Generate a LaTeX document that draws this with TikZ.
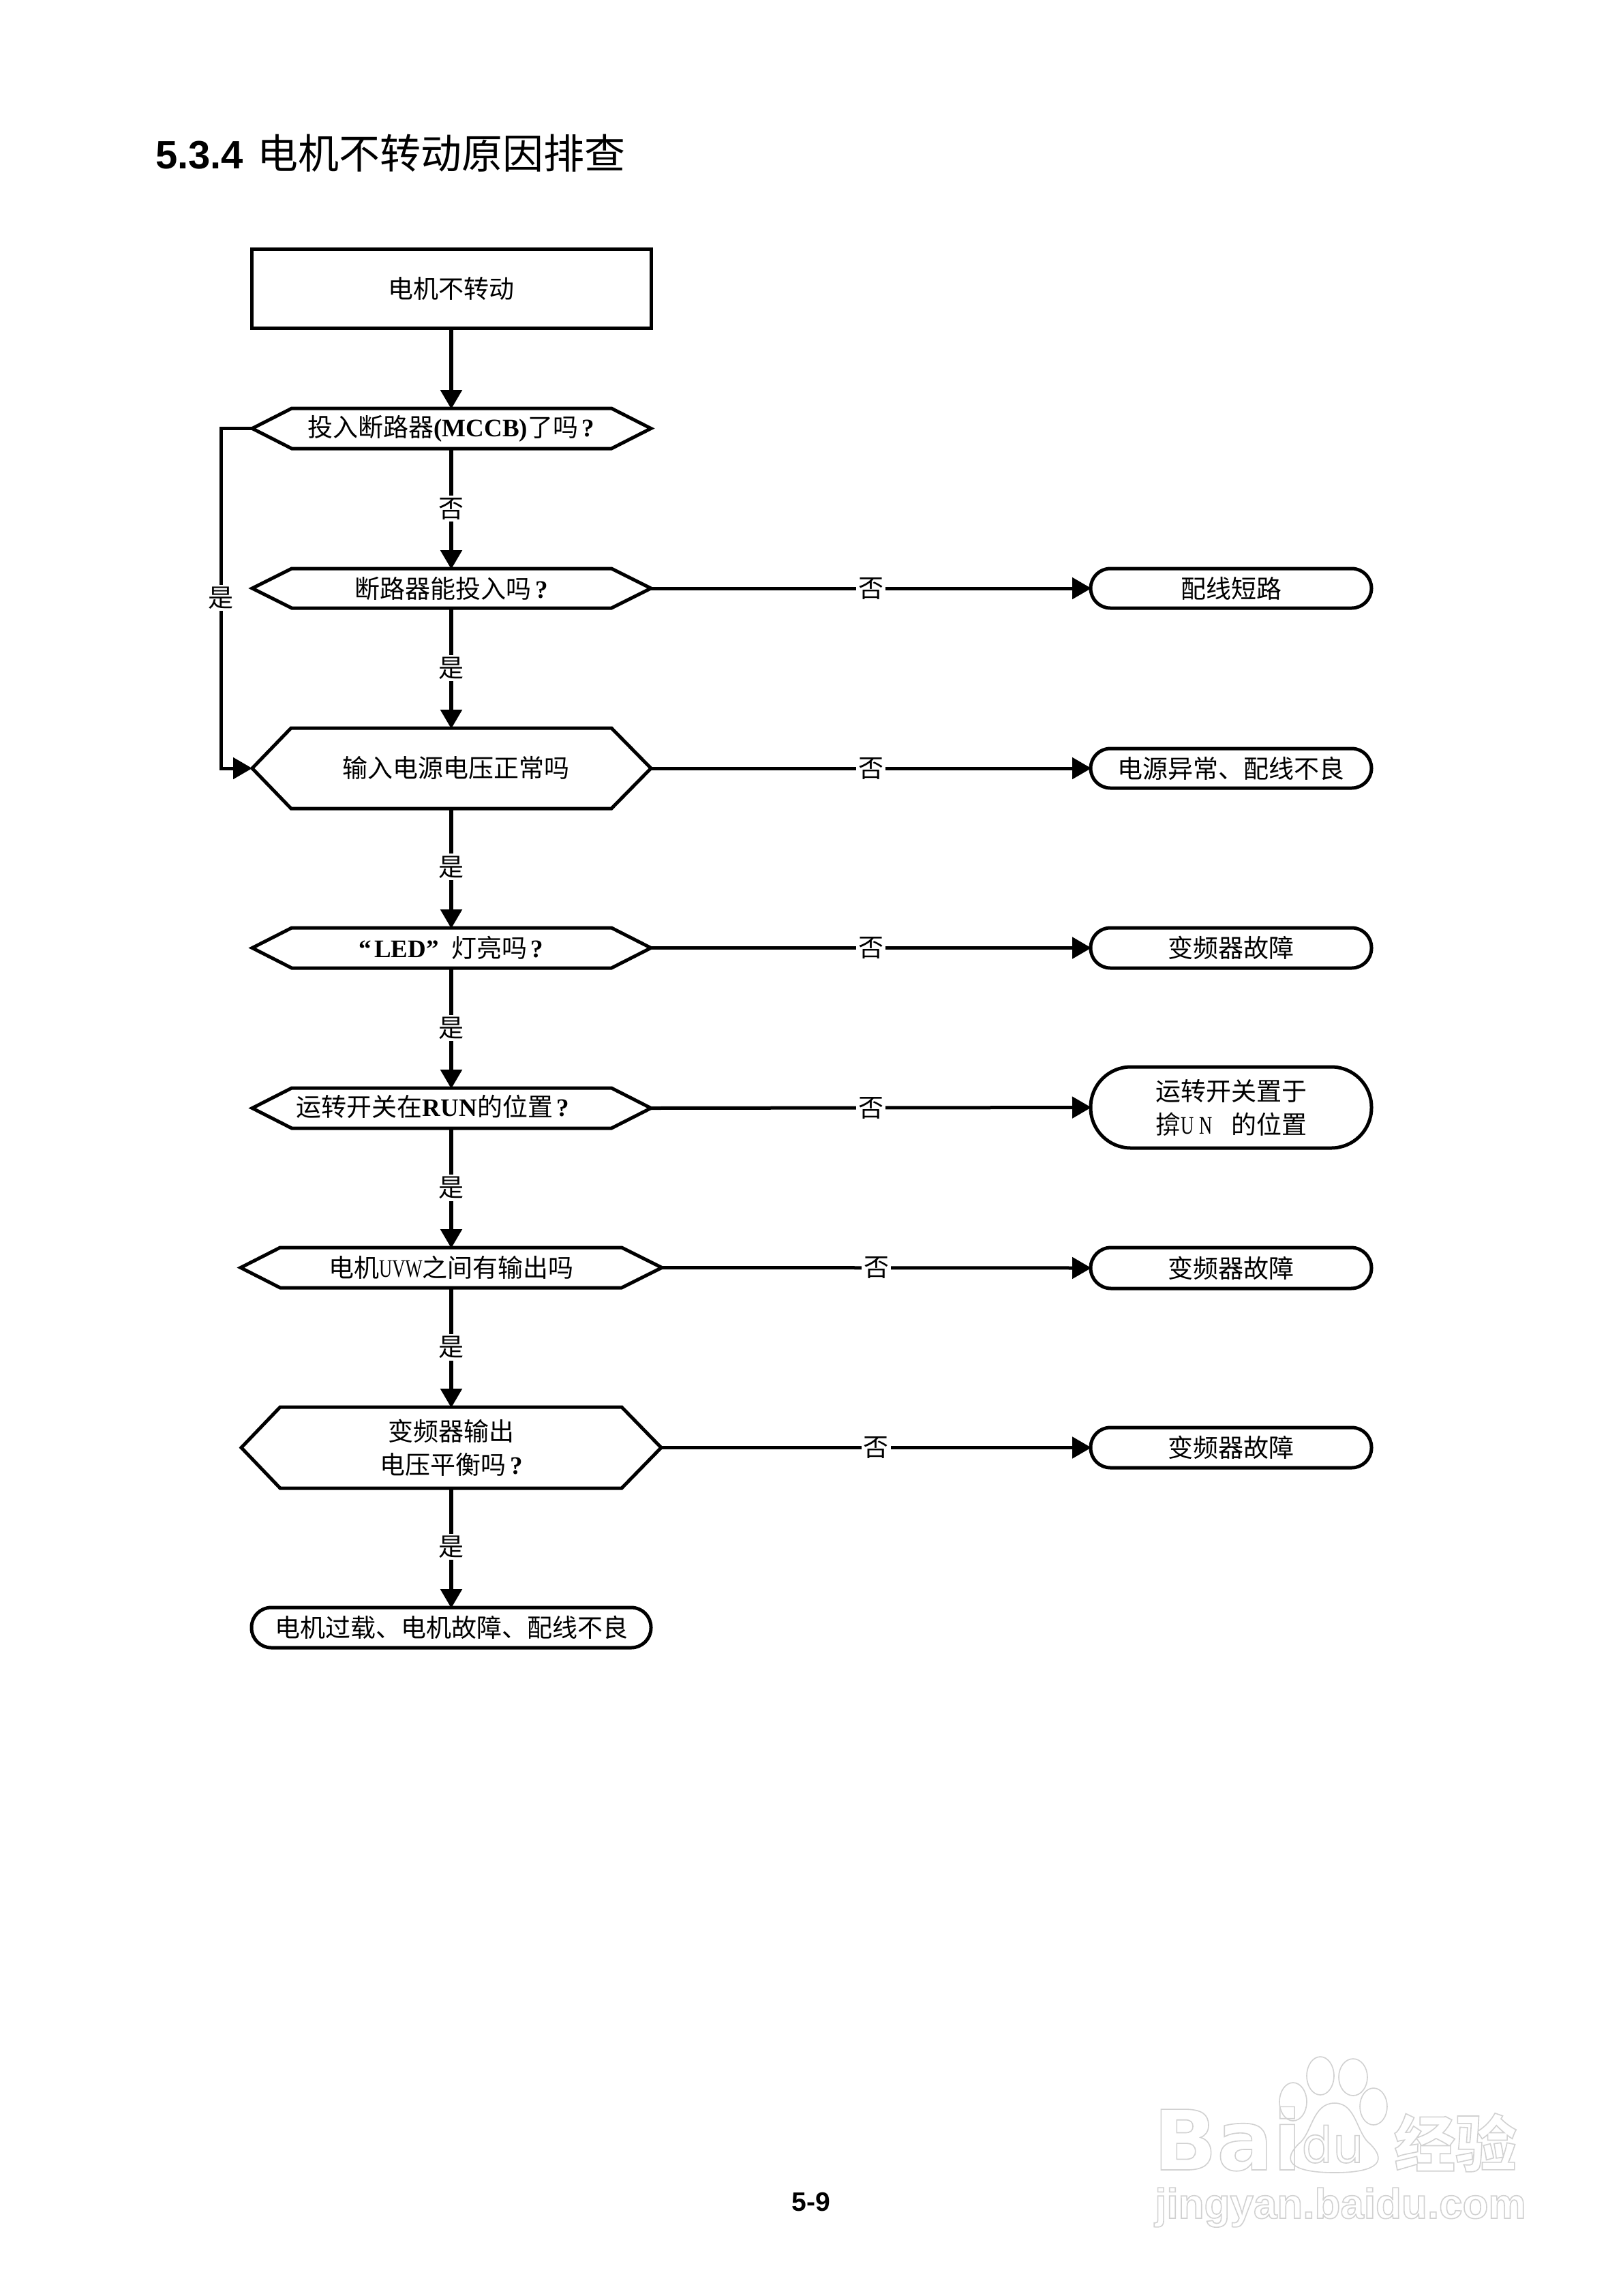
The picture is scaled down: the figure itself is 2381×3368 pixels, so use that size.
\documentclass[tikz,border=0pt]{standalone}
\usepackage{fontspec}
\usepackage{graphicx}
\setmainfont{Liberation Serif}
\newfontfamily\cjk{Noto Sans CJK SC}
\newfontfamily\hv{Liberation Sans}
\newfontfamily\wm{DejaVu Sans}
\usetikzlibrary{arrows.meta}
\newcommand{\outl}[1]{\special{pdf:code 1 Tr 1.6 w 0.82 G}#1\special{pdf:code 0 Tr 0 G}}
\newcommand{\qm}{\hspace{.15em}{\rmfamily\bfseries ?}}
\newcommand{\nar}[1]{\scalebox{.72}[1]{\rmfamily #1}}
\tikzset{
 x=1pt,y=-1pt,
 line/.style={line width=5pt,draw=black},
 flow/.style={line width=5.5pt,draw=black,-{Triangle[length=28pt,width=31pt]},shorten >=-1pt},
 lab/.style={fill=white,inner sep=3pt,font=\fontsize{37}{37}\selectfont\cjk},
 txt/.style={font=\fontsize{37}{49}\selectfont\cjk,align=center,inner sep=0pt},
}
\newcommand{\hexa}[7]{% name, xl, xi, xj, xr, yt, yb
 \coordinate (#1-w) at (#2,{(#6+#7)/2});
 \coordinate (#1-e) at (#5,{(#6+#7)/2});
 \coordinate (#1-n) at (662,#6);
 \coordinate (#1-s) at (662,#7);
 \coordinate (#1-c) at (662,{(#6+#7)/2});
 \draw[line,line join=miter] (#1-w) -- (#3,#6) -- (#4,#6) -- (#1-e) -- (#4,#7) -- (#3,#7) -- cycle;
}
\newcommand{\pill}[6]{% name, xl, xr, yt, yb, radius
 \draw[line,rounded corners=#6pt] (#2,#4) rectangle (#3,#5);
 \coordinate (#1-w) at (#2,{(#4+#5)/2});
 \coordinate (#1-n) at ({(#2+#3)/2},#4);
 \coordinate (#1-c) at ({(#2+#3)/2},{(#4+#5)/2});
}
\begin{document}
\begin{tikzpicture}
\useasboundingbox (0,0) rectangle (2381,3368);
\fill[white] (0,0) rectangle (2381,3368);

% title and page number
\node[anchor=base west,inner sep=0pt,font=\fontsize{58}{60}\selectfont\hv\bfseries] (title) at (228,247) {5.3.4};
\node[anchor=base west,inner sep=0pt,font=\fontsize{60}{60}\selectfont\cjk] (titlecjk) at (377,247) {电机不转动原因排查};
\node[anchor=center,inner sep=0pt,font=\fontsize{39}{40}\selectfont\hv\bfseries] (page) at (1190,3230) {5-9};

% watermark
\node[anchor=base west,inner sep=0pt,font=\fontsize{122}{122}\selectfont\wm\bfseries] (wm1) at (1692,3183) {\outl{Bai}};
\node[anchor=base,inner sep=0pt,font=\fontsize{72}{72}\selectfont\wm] (wm2) at (1955,3172) {\outl{du}};
\node[anchor=base west,inner sep=0pt,font=\fontsize{90}{90}\selectfont\cjk\bfseries] (wm3) at (2045,3178) {\outl{经验}};
\node[anchor=base west,inner sep=0pt,font=\fontsize{62}{62}\selectfont\hv\bfseries] (wm4) at (1694,3254) {\outl{jingyan.baidu.com}};
\begin{scope}[draw=black!18,line width=1.6pt]
\draw (1897,3083) ellipse (20 and 28);
\draw (1937,3045) ellipse (20 and 28);
\draw (1985,3047) ellipse (21 and 27);
\draw (2015,3090) ellipse (20 and 27);
\draw (1958,3085) .. controls (1925,3085) and (1925,3130) .. (1905,3145) .. controls (1875,3175) and (1905,3187) .. (1958,3187) .. controls (2010,3187) and (2040,3175) .. (2010,3145) .. controls (1990,3130) and (1990,3085) .. (1958,3085) -- cycle;
\end{scope}

% start box
\node[draw,line width=5pt,minimum width=586pt,minimum height=116pt,inner sep=0pt,font=\fontsize{37}{49}\selectfont\cjk] (start) at (662,423.5) {电机不转动};

% decisions
\hexa{d1}{370}{428}{897}{955}{599}{658}
\hexa{d2}{370}{428}{897}{955}{834}{892}
\hexa{d3}{370}{427}{897}{955}{1068}{1186}
\hexa{d4}{370}{428}{897}{955}{1361}{1420}
\hexa{d5}{370}{428}{897}{955}{1596}{1655}
\hexa{d6}{353}{411}{912}{971}{1830}{1889}
\hexa{d7}{354}{411}{912}{970}{2064}{2183}

\node[txt] (t1) at (d1-c) {投入断路器{\rmfamily\bfseries (MCCB)}了吗\qm};
\node[txt] (t2) at (d2-c) {断路器能投入吗\qm};
\node[txt] (t3) at (669,1126) {输入电源电压正常吗};
\node[txt] (t4) at (d4-c) {{\rmfamily\bfseries “\hspace{.1em}LED”\hspace{.5em}}灯亮吗\qm};
\node[txt] (t5) at (635,1623) {运转开关在{\rmfamily\bfseries RUN}的位置\qm};
\node[txt] (t6) at (d6-c) {电机\nar{UVW}之间有输出吗};
\node[txt] (t7) at (d7-c) {变频器输出\\电压平衡吗\qm};

% terminals
\pill{e1}{1600}{2012}{834}{892}{29}
\pill{e2}{1600}{2012}{1098}{1156}{29}
\pill{e3}{1600}{2012}{1361}{1420}{29}
\pill{e4}{1600}{2012}{1565}{1684}{59}
\pill{e5}{1600}{2012}{1830}{1890}{30}
\pill{e6}{1600}{2012}{2094}{2153}{29}
\pill{e7}{369}{955}{2358}{2417}{29}
\node[txt] (r1) at (e1-c) {配线短路};
\node[txt] (r2) at (e2-c) {电源异常、配线不良};
\node[txt] (r3) at (e3-c) {变频器故障};
\node[txt] (r4) at (e4-c) {运转开关置于\\揜\makebox[27pt][l]{\nar{U}}\makebox[47pt][l]{\nar{N}}的位置};
\node[txt] (r5) at (e5-c) {变频器故障};
\node[txt] (r6) at (e6-c) {变频器故障};
\node[txt] (r7) at (e7-c) {电机过载、电机故障、配线不良};

% vertical connectors
\draw[flow] (start.south) -- (d1-n);
\draw[flow] (d1-s) -- node[lab,pos=.5] (l1) {否} (d2-n);
\draw[flow] (d2-s) -- node[lab,pos=.5] (l2) {是} (d3-n);
\draw[flow] (d3-s) -- node[lab,pos=.49] (l3) {是} (d4-n);
\draw[flow] (d4-s) -- node[lab,pos=.5] (l4) {是} (d5-n);
\draw[flow] (d5-s) -- node[lab,pos=.5] (l5) {是} (d6-n);
\draw[flow] (d6-s) -- node[lab,pos=.5] (l6) {是} (d7-n);
\draw[flow] (d7-s) -- node[lab,pos=.49] (l7) {是} (e7-n);

% horizontal connectors
\draw[flow,line width=5pt] (d2-e) -- node[lab,pos=.5] (n1) {否} (e1-w);
\draw[flow,line width=5pt] (d3-e) -- node[lab,pos=.5] (n2) {否} (e2-w);
\draw[flow,line width=5pt] (d4-e) -- node[lab,pos=.5] (n3) {否} (e3-w);
\draw[flow,line width=5pt] (d5-e) -- node[lab,pos=.5] (n4) {否} (e4-w);
\draw[flow,line width=5pt] (d6-e) -- node[lab,pos=.5] (n5) {否} (e5-w);
\draw[flow,line width=5pt] (d7-e) -- node[lab,pos=.5] (n6) {否} (e6-w);

% yes bypass
\coordinate (byT) at (324,628.5);
\coordinate (byB) at (324,1127);
\draw[line,-{Triangle[length=28pt,width=31pt]},line join=miter] (d1-w) -- (byT) -- (byB) -- (d3-w);
\node[lab] (ly) at (324,877) {是};
\end{tikzpicture}
\end{document}
